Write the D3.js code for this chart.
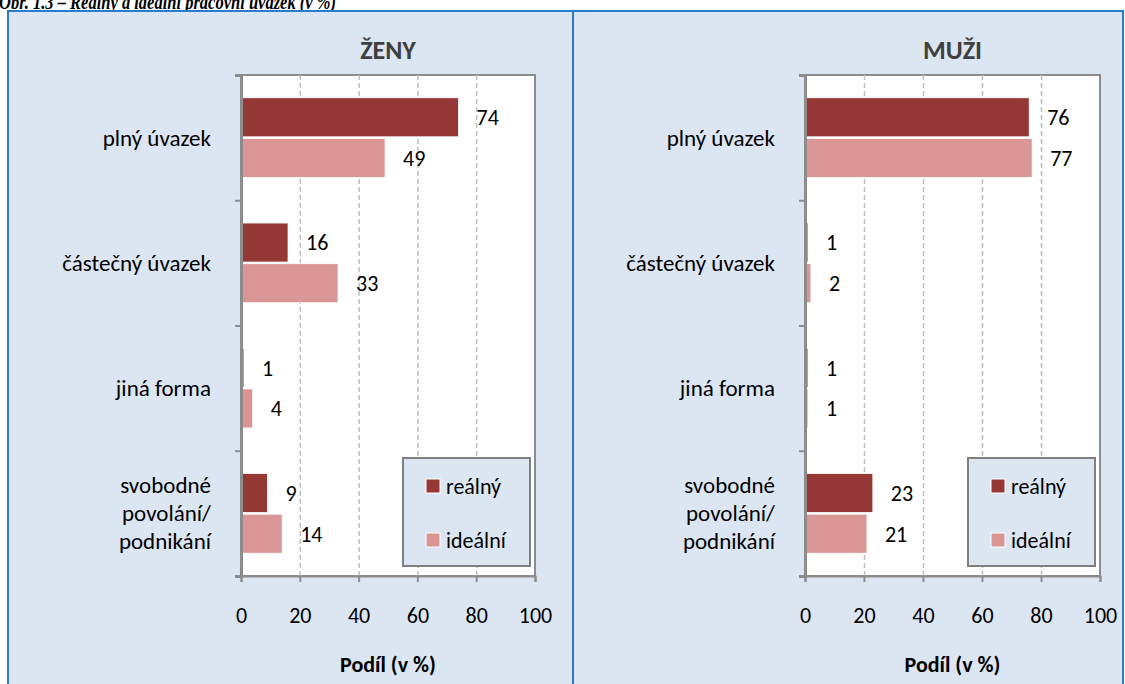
<!DOCTYPE html>
<html>
<head>
<meta charset="utf-8">
<script src="https://cdn.jsdelivr.net/npm/d3@7"></script>
<style>
  body { margin: 0; background: #fff; }
  svg { display: block; }
  text { font-family: Carlito, Calibri, Lato, sans-serif; fill: #000; }
</style>
</head>
<body>
<svg id="chart" width="1125" height="684"></svg>
<script>
// data
const categories = ["plný úvazek", "částečný úvazek", "jiná forma", "svobodné povolání/ podnikání"];
const categoryLines = [["plný úvazek"], ["částečný úvazek"], ["jiná forma"], ["svobodné", "povolání/", "podnikání"]];
const seriesNames = ["reálný", "ideální"];
const zenyRealny = [74, 16, 1, 9];
const zenyIdealni = [49, 33, 4, 14];
const muziRealny = [76, 1, 1, 23];
const muziIdealni = [77, 2, 1, 21];
const xTicks = [0, 20, 40, 60, 80, 100];
const panelTitles = ["ŽENY", "MUŽI"];
const axisTitle = "Podíl (v %)";
const figureTitle = "Obr. 1.3 – Reálný a ideální pracovní úvazek (v %)";

const colors = ["#953735", "#d99694"];
const svg = d3.select("#chart");

// figure caption, cut at the top like in the source
svg.append("text")
  .attr("x", -1).attr("y", 9)
  .attr("textLength", 337).attr("lengthAdjust", "spacingAndGlyphs")
  .style("font-family", "'Liberation Serif', 'Times New Roman', serif")
  .style("font-weight", "bold").style("font-style", "italic")
  .style("font-size", "22px")
  .text(figureTitle);

// panel backgrounds
const panels = [
  {title: panelTitles[0], realny: zenyRealny, idealni: zenyIdealni, left: 8, right: 573, x0: 241, x1: 535},
  {title: panelTitles[1], realny: muziRealny, idealni: muziIdealni, left: 573, right: 1123, x0: 805, x1: 1100},
];

panels.forEach(p => {
  svg.append("rect")
    .attr("x", p.left).attr("y", 11)
    .attr("width", p.right - p.left).attr("height", 700)
    .attr("fill", "#dce6f2")
    .attr("stroke", "#2a7bcb").attr("stroke-width", 2);
});

function drawPanel(p) {
  const top = 75, bottom = 576;
  const g = svg.append("g");

  const x = d3.scaleLinear().domain([0, 100]).range([p.x0, p.x1]);
  const y = d3.scaleBand().domain(categories).range([top, bottom]).paddingInner(0).paddingOuter(0);
  const ySub = d3.scaleBand().domain(seriesNames).range([0, y.bandwidth()])
    .paddingInner(0.04).paddingOuter(0.56);
  const yEdge = d3.scaleLinear().domain([0, categories.length]).range([top, bottom]);

  // plot area
  g.append("rect")
    .attr("x", p.x0).attr("y", top)
    .attr("width", p.x1 - p.x0).attr("height", bottom - top)
    .attr("fill", "#fff")
    .attr("stroke", "#8c8c8c").attr("stroke-width", 2);

  // dashed gridlines
  g.append("g")
    .attr("transform", `translate(0,${bottom})`)
    .call(d3.axisBottom(x).tickValues(xTicks.slice(1, -1)).tickSize(-(bottom - top)).tickFormat(""))
    .call(a => a.select(".domain").remove())
    .call(a => a.selectAll("line").attr("stroke", "#bfbfbf").attr("stroke-width", 1.5).attr("stroke-dasharray", "5,3"));

  // bars
  const rows = categories.map((c, i) => ({cat: c, vals: [p.realny[i], p.idealni[i]]}));
  const band = g.selectAll(".band").data(rows).join("g")
    .attr("transform", d => `translate(0,${y(d.cat)})`);

  band.selectAll("rect")
    .data(d => d.vals.map((v, k) => ({v, s: seriesNames[k], k})))
    .join("rect")
    .attr("x", x(0))
    .attr("y", d => ySub(d.s))
    .attr("width", d => x(d.v) - x(0))
    .attr("height", ySub.bandwidth())
    .attr("fill", d => colors[d.k])
    .attr("stroke", "#fff").attr("stroke-width", 0.8);

  band.selectAll("text.val")
    .data(d => d.vals.map((v, k) => ({v, s: seriesNames[k]})))
    .join("text")
    .attr("class", "val")
    .attr("x", d => x(d.v) + 18)
    .attr("y", d => ySub(d.s) + ySub.bandwidth() / 2)
    .attr("dy", "0.36em")
    .style("font-size", "22px")
    .text(d => d.v);

  // x axis
  g.append("g")
    .attr("transform", `translate(0,${bottom})`)
    .call(d3.axisBottom(x).tickValues(xTicks).tickSize(6).tickPadding(25))
    .call(a => a.select(".domain").attr("stroke", "#8c8c8c").attr("stroke-width", 2))
    .call(a => a.selectAll("line").attr("stroke", "#8c8c8c").attr("stroke-width", 2))
    .call(a => a.selectAll("text").attr("font-family", null).style("font-size", "22px").attr("fill", "#000"));

  // y axis with ticks between categories
  g.append("g")
    .attr("transform", `translate(${p.x0},0)`)
    .call(d3.axisLeft(yEdge).tickValues(d3.range(categories.length + 1)).tickSize(6).tickFormat(""))
    .call(a => a.select(".domain").attr("stroke", "#8c8c8c").attr("stroke-width", 3))
    .call(a => a.selectAll("line").attr("stroke", "#8c8c8c").attr("stroke-width", 2));

  // category labels
  g.selectAll(".cat").data(categories).join("text")
    .attr("class", "cat")
    .attr("text-anchor", "end")
    .attr("x", p.x0 - 30)
    .attr("y", c => y(c) + y.bandwidth() / 2)
    .style("font-size", "23px")
    .each(function(c, i) {
      const lines = categoryLines[i];
      const lh = 28;
      d3.select(this).selectAll("tspan").data(lines).join("tspan")
        .attr("x", p.x0 - 30)
        .attr("dy", (l, j) => j === 0 ? `${-(lines.length - 1) * lh / 2 + 8}px` : `${lh}px`)
        .text(l => l);
    });

  // panel title
  g.append("text")
    .attr("x", (p.x0 + p.x1) / 2).attr("y", 59)
    .attr("text-anchor", "middle")
    .style("font-size", "26px").style("font-weight", "bold")
    .style("fill", "#404040")
    .text(p.title);

  // axis title
  g.append("text")
    .attr("x", (p.x0 + p.x1) / 2).attr("y", 672)
    .attr("text-anchor", "middle")
    .style("font-size", "22px").style("font-weight", "bold")
    .text(axisTitle);

  // legend
  const lx = p.x1 - 132, ly = 458;
  const leg = g.append("g").attr("transform", `translate(${lx},${ly})`);
  leg.append("rect")
    .attr("width", 127).attr("height", 108)
    .attr("fill", "#dce6f2")
    .attr("stroke", "#808080").attr("stroke-width", 2);
  const item = leg.selectAll(".item").data(seriesNames).join("g")
    .attr("class", "item")
    .attr("transform", (d, i) => `translate(23,${21 + i * 54})`);
  item.append("rect")
    .attr("width", 14).attr("height", 14)
    .attr("fill", (d, i) => colors[i])
    .attr("stroke", "#fff").attr("stroke-width", 1);
  item.append("text")
    .attr("x", 20).attr("y", 7).attr("dy", "0.36em")
    .style("font-size", "22px")
    .text(d => d);
}

panels.forEach(drawPanel);
</script>
</body>
</html>
